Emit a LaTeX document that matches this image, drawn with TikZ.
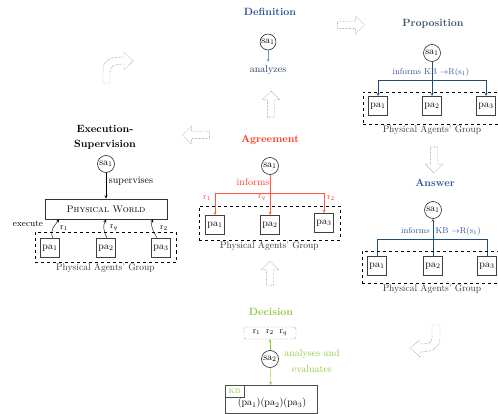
\documentclass[tikz,border=0pt]{standalone}
\usepackage{tikz}
\usetikzlibrary{arrows.meta, shapes.arrows, fit, positioning}
\definecolor{defblue}{HTML}{2F5597}
\definecolor{lineblue}{HTML}{5B9BD5}
\definecolor{navyblue}{HTML}{1F3864}
\definecolor{slate}{HTML}{44546A}
\definecolor{propline}{HTML}{1F4E79}
\definecolor{agrred}{HTML}{FF3B1F}
\definecolor{agrline}{HTML}{FF5A3C}
\definecolor{decgreen}{HTML}{92C83E}
\definecolor{grptext}{HTML}{3A3A3A}

\begin{document}
\begin{tikzpicture}[>=stealth, x=1pt, y=-1pt,
  font=\fontsize{10}{12}\selectfont,
  agent/.style={circle, draw=black!85, line width=0.6pt, inner sep=0.5pt, minimum size=17pt},
  pabox/.style={draw=black!75, line width=1pt, minimum size=19pt, inner sep=0pt},
  group/.style={draw, dashed, line width=0.7pt, inner xsep=5pt, inner ysep=6pt},
  grplabel/.style={below=1pt of #1, inner sep=0pt, text=grptext, font=\fontsize{9.5}{11}\selectfont},
  ttl/.style={font=\bfseries\fontsize{10.5}{15}\selectfont},
  hollow/.style={single arrow, draw=black!70, densely dotted, inner sep=3.5pt, single arrow head extend=5pt},
  small/.style={font=\fontsize{8.5}{10}\selectfont}]
  \useasboundingbox (0,0) rectangle (498,414);

  % Definition
  \node[ttl, text=defblue] (deftitle) at (270,12) {Definition};
  \node[agent, minimum size=15pt] (dsa) at (268,42) {$\mathrm{sa}_1$};
  \node[text=navyblue] (danal) at (268,70) {analyzes};
  \draw[->, lineblue] (dsa) -- (danal);

  % hollow arrows between the stages
  \node[hollow, minimum height=27pt] (hright) at (349,25) {};
  \node[hollow, rotate=-90, minimum height=26pt] (hdown) at (434,158) {};
  \node[hollow, rotate=180, minimum height=27pt] (hleft) at (198,135) {};
  \node[hollow, rotate=90, minimum height=26pt] (hup1) at (271,106) {};
  \node[hollow, rotate=90, minimum height=24pt] (hup2) at (270,275) {};
  \draw[draw=black!70, densely dotted] (103,83) -- (103,70) .. controls (103,60) and (110,57) .. (124,57)
    -- (124,52) -- (133,61) -- (124,70) -- (124,64) .. controls (115,64) and (110,66) .. (110,72) -- (110,83) -- cycle;
  \draw[draw=black!70, densely dotted] (432,325) -- (432,338) .. controls (432,343) and (428,344) .. (420,344)
    -- (420,340) -- (410,348) -- (420,357) -- (420,352) .. controls (432,352) and (440,348) .. (440,338) -- (440,325) -- cycle;

  % Proposition
  \node[ttl, text=slate] (ptitle) at (433,24) {Proposition};
  \node[agent] (psa) at (432,53) {$\mathrm{sa}_1$};
  \node[small, text=defblue] (pinf) at (431,72) {informs KB $\rightarrow$R(s$_1$)};
  \node[pabox] (ppa1) at (378,106) {pa$_1$};
  \node[pabox] (ppa2) at (432,106) {pa$_2$};
  \node[pabox] (ppa3) at (486,106) {pa$_3$};
  \coordinate (pbus) at (432,80);
  \draw[->, propline] (psa) -- (ppa2);
  \draw[->, propline] (pbus) -| (ppa1);
  \draw[->, propline] (pbus) -| (ppa3);
  \node[group, fit=(ppa1)(ppa3), yshift=-2pt] (pgrp) {};
  \node[grplabel=pgrp] (pgrplab) {Physical Agents' Group};

  % Answer
  \node[ttl, text=defblue] (atitle) at (435,183) {Answer};
  \node[agent] (asa) at (433,210) {$\mathrm{sa}_1$};
  \node[small, text=defblue] (ainf) at (441,231) {informs\ \ KB $\rightarrow$R(s$_1$)};
  \node[pabox] (apa1) at (377,266) {pa$_1$};
  \node[pabox] (apa2) at (433,266) {pa$_2$};
  \node[pabox] (apa3) at (487,266) {pa$_3$};
  \coordinate (abus) at (433,239);
  \draw[->, propline] (apa2) -- (asa);
  \draw[propline] (apa1) |- (abus);
  \draw[propline] (apa3) |- (abus);
  \node[group, fit=(apa1)(apa3), yshift=-1pt] (agrp) {};
  \node[grplabel=agrp] (agrplab) {Physical Agents' Group};

  % Agreement
  \node[ttl, text=agrred] (gtitle) at (270,140) {Agreement};
  \node[agent] (gsa) at (270,166) {$\mathrm{sa}_1$};
  \node[text=agrred] (ginf) at (253,182) {informs};
  \node[pabox] (gpa1) at (215,225) {pa$_1$};
  \node[pabox] (gpa2) at (270,225) {pa$_2$};
  \node[pabox] (gpa3) at (324,223) {pa$_3$};
  \coordinate (gbus) at (270,193);
  \draw[->, agrline] (gsa) -- (gpa2);
  \draw[->, agrline] (gbus) -| (gpa1);
  \draw[->, agrline] (gbus) -| (gpa3);
  \node[small, text=agrred] (gr1) at (207,198) {r$_1$};
  \node[small, text=agrred] (grq) at (262,198) {r$_q$};
  \node[small, text=agrred] (gr2) at (331,198) {r$_2$};
  \node[group, fit=(gpa1)(gpa3), inner xsep=6pt, yshift=1pt] (ggrp) {};
  \node[grplabel=ggrp] (ggrplab) {Physical Agents' Group};

  % Execution-Supervision
  \node[ttl, align=center] (etitle) at (105,137) {Execution-\\Supervision};
  \node[agent] (esa) at (106,164) {$\mathrm{sa}_1$};
  \node[draw=black!80, line width=0.9pt, minimum width=122pt, minimum height=20pt,
    font=\fontsize{9.5}{11}\selectfont] (world) at (106,209) {\textsc{Physical World}};
  \draw[->] (esa) -- (world);
  \node (esup) at (131,181) {supervises};
  \node[pabox] (epa1) at (50,248) {pa$_1$};
  \node[pabox] (epa2) at (106,248) {pa$_2$};
  \node[pabox] (epa3) at (161,248) {pa$_3$};
  \draw[->] ([xshift=3pt]epa1.north) .. controls +(-4,-8) and +(-4,6) .. ([xshift=9pt]epa1.north |- world.south);
  \draw[->] ([xshift=1pt]epa2.north) .. controls +(-4,-8) and +(-3,6) .. (epa2.north |- world.south);
  \draw[->] ([xshift=-4pt]epa3.north) .. controls +(-4,-8) and +(-3,6) .. ([xshift=-8pt]epa3.north |- world.south);
  \node[small] (er1) at (64,228) {r$_1$};
  \node[small] (erq) at (114,228) {r$_q$};
  \node[small] (er2) at (164,228) {r$_2$};
  \node[font=\fontsize{9}{10}\selectfont] (eexec) at (28,224) {execute};
  \node[group, fit=(epa1)(epa3), inner ysep=5pt, yshift=0.5pt] (egrp) {};
  \node[grplabel=egrp] (egrplab) {Physical Agents' Group};

  % Decision
  \node[ttl, text=decgreen] (dtitle) at (271,312) {Decision};
  \node[draw=black!80, densely dotted, rounded corners=2pt, minimum width=52pt, minimum height=12pt,
    inner sep=1pt, small] (dres) at (270,333) {r$_1$\ \ r$_2$\ \ r$_q$};
  \node[agent] (dsa2) at (270,359) {$\mathrm{sa}_2$};
  \node[text=decgreen, align=center, font=\fontsize{10}{16}\selectfont] (dana) at (312,361) {analyses and\\evaluates};
  \node[draw=black!70, minimum width=92pt, minimum height=28pt] (kb) at (271,399) {};
  \node[draw=black!70, anchor=north west, minimum width=19pt, minimum height=12pt, inner sep=1pt,
    text=decgreen, font=\fontsize{7}{8}\selectfont] (kbtag) at (kb.north west) {KB};
  \node (kbpa) at (272,403) {(pa$_1$)(pa$_2$)(pa$_3$)};
  \draw[->, decgreen] (dsa2) -- (dres);
  \draw[->, decgreen] (dsa2) -- (kb);
\end{tikzpicture}
\end{document}
